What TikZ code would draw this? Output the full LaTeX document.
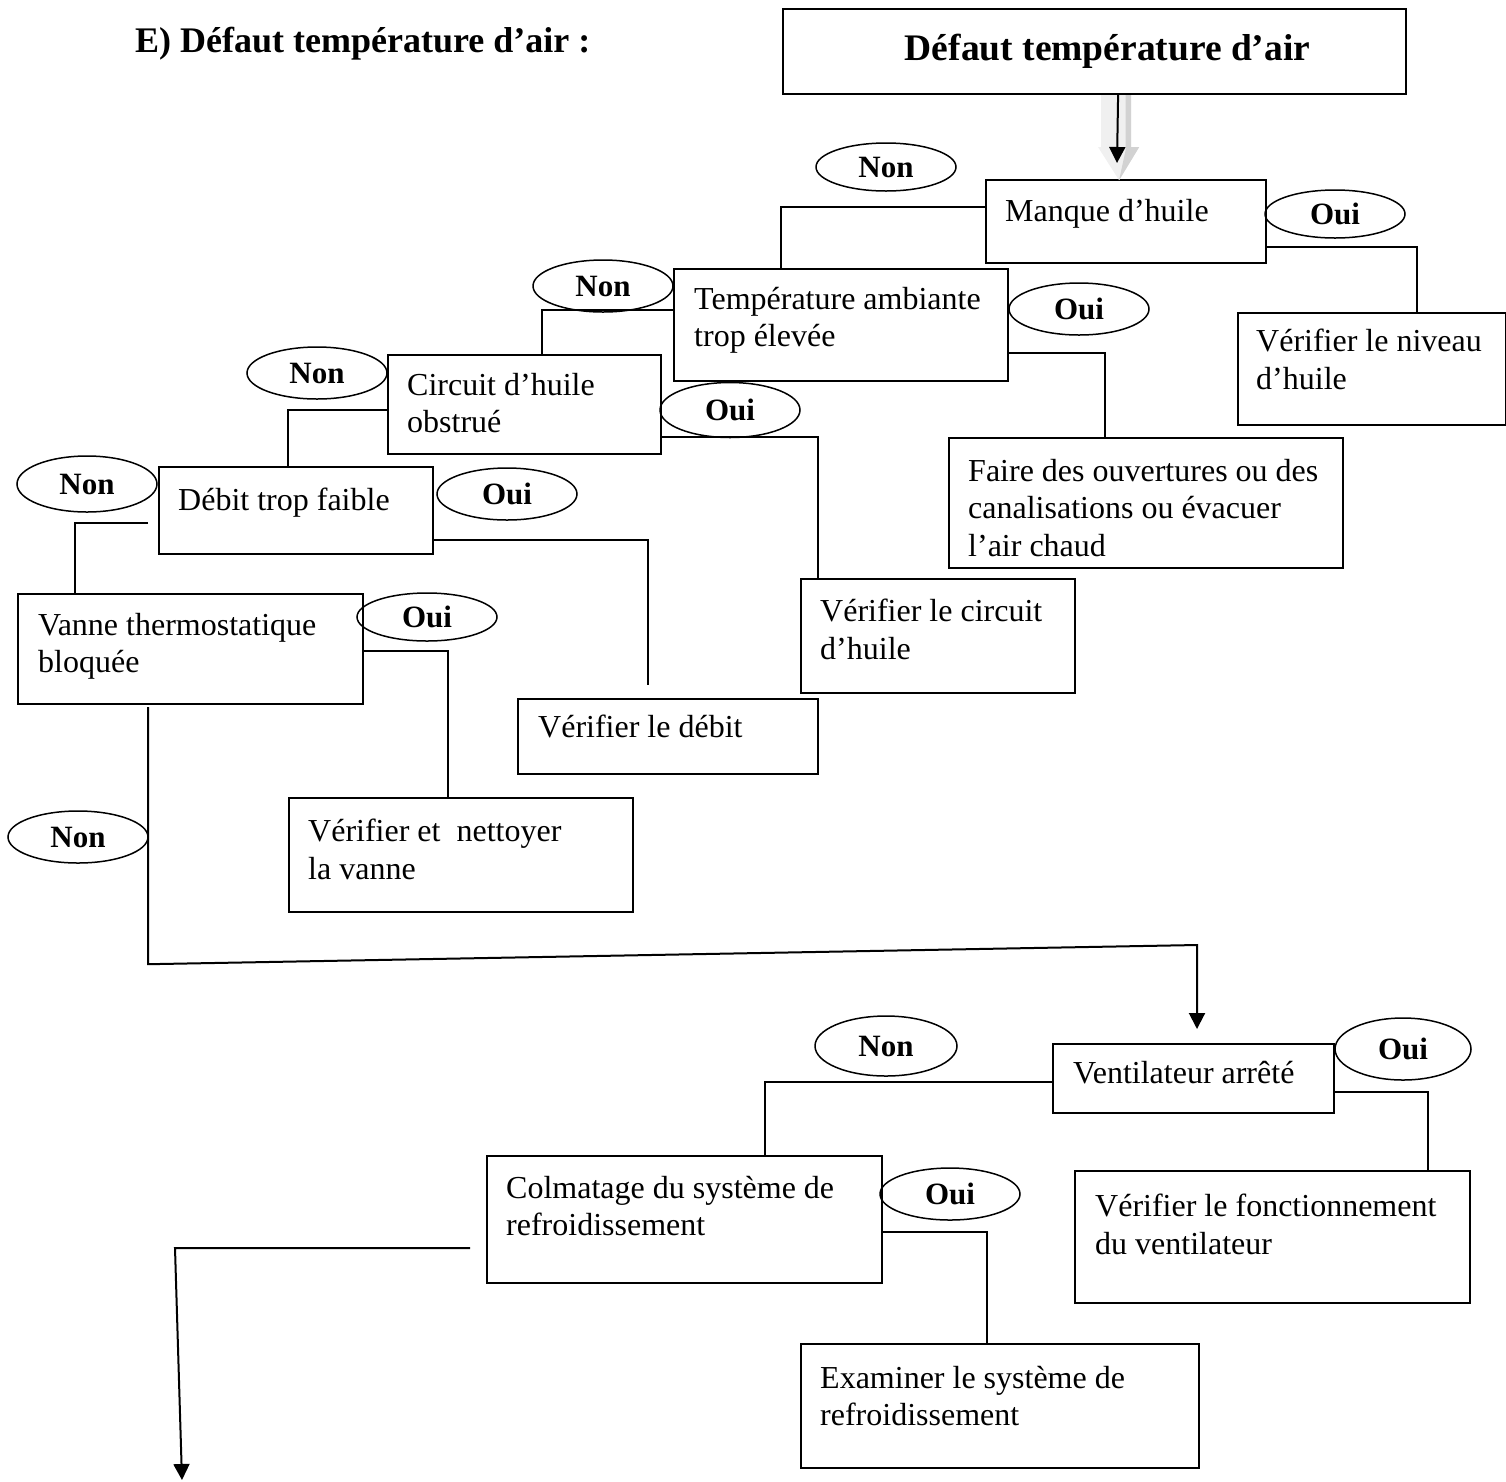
\documentclass[tikz,border=0pt]{standalone}
\usepackage{fontspec}
\setmainfont{Liberation Serif}
\usetikzlibrary{shapes.geometric,arrows.meta,calc}
\newcommand{\corps}{\fontsize{32}{37.5}\selectfont}
\newcommand{\gras}{\bfseries\fontsize{36}{40}\selectfont}

\begin{document}
\begin{tikzpicture}[x=1pt,y=-1pt,
  boite/.style={draw,line width=2.2pt,anchor=north west,inner sep=0pt},
  texte/.style={anchor=north west,align=left,inner sep=0pt,font=\corps,execute at begin node=\strut},
  ovale/.style={draw,ellipse,line width=1.5pt,minimum width=140pt,minimum height=52pt,inner sep=0pt,font=\bfseries\fontsize{31}{37}\selectfont},
  lien/.style={line width=2pt},
  fleche/.style={line width=2pt,-{Triangle[length=16pt,width=16pt]}}]
  \useasboundingbox (0,0) rectangle (1506,1481);

  %heading
  \node[anchor=base west,font=\gras,inner sep=0pt] (entete) at (135,52) {E) Défaut température d’air :};
  \node[boite,minimum width=623pt,minimum height=85pt,font=\bfseries\fontsize{37.5}{40}\selectfont] (titre) at (782,8) {\hspace*{26pt}Défaut température d’air};

  %question boxes
  \node[boite,minimum width=280pt,minimum height=83pt] (manque) at (985,179) {};
  \node[boite,minimum width=334pt,minimum height=112pt] (temp) at (673,268) {};
  \node[boite,minimum width=273pt,minimum height=99pt] (circuit) at (387,354) {};
  \node[boite,minimum width=274pt,minimum height=87pt] (debit) at (158,466) {};
  \node[boite,minimum width=345pt,minimum height=110pt] (vanne) at (17,593) {};
  \node[boite,minimum width=281pt,minimum height=69pt] (ventil) at (1052,1043) {};
  \node[boite,minimum width=395pt,minimum height=127pt] (colmat) at (486,1155) {};

  %answer boxes
  \node[boite,minimum width=268pt,minimum height=112pt] (niveau) at (1237,312) {};
  \node[boite,minimum width=394pt,minimum height=130pt] (faire) at (948,437) {};
  \node[boite,minimum width=274pt,minimum height=114pt] (vcircuit) at (800,578) {};
  \node[boite,minimum width=300pt,minimum height=75pt] (vdebit) at (517,698) {};
  \node[boite,minimum width=344pt,minimum height=114pt] (vvanne) at (288,797) {};
  \node[boite,minimum width=395pt,minimum height=132pt] (vventil) at (1074,1170) {};
  \node[boite,minimum width=398pt,minimum height=124pt] (exam) at (800,1343) {};

  %texts of the boxes
  \node[texte] (manque-t) at ($(manque.north west)+(20,16)$) {Manque d’huile};
  \node[texte] (temp-t) at ($(temp.north west)+(21,19)$) {Température ambiante\\trop élevée};
  \node[texte] (circuit-t) at ($(circuit.north west)+(20,19)$) {Circuit d’huile\\obstrué};
  \node[texte] (debit-t) at ($(debit.north west)+(20,18)$) {Débit trop faible};
  \node[texte] (vanne-t) at ($(vanne.north west)+(21,20)$) {Vanne thermostatique\\bloquée};
  \node[texte] (ventil-t) at ($(ventil.north west)+(21,14)$) {Ventilateur arrêté};
  \node[texte] (colmat-t) at ($(colmat.north west)+(20,21)$) {Colmatage du système de\\refroidissement};
  \node[texte] (niveau-t) at ($(niveau.north west)+(19,17)$) {Vérifier le niveau\\d’huile};
  \node[texte] (faire-t) at ($(faire.north west)+(20,22)$) {Faire des ouvertures ou des\\canalisations ou évacuer\\l’air chaud};
  \node[texte] (vcircuit-t) at ($(vcircuit.north west)+(20,21)$) {Vérifier le circuit\\d’huile};
  \node[texte] (vdebit-t) at ($(vdebit.north west)+(21,13)$) {Vérifier le débit};
  \node[texte] (vvanne-t) at ($(vvanne.north west)+(20,22)$) {Vérifier et~ nettoyer\\la vanne};
  \node[texte] (vventil-t) at ($(vventil.north west)+(21,24)$) {Vérifier le fonctionnement\\du ventilateur};
  \node[texte] (exam-t) at ($(exam.north west)+(20,23)$) {Examiner le système de\\refroidissement};

  %Non / Oui
  \node[ovale,minimum height=48pt] (non1) at (886,167) {Non};
  \node[ovale,minimum height=48pt] (oui1) at (1335,214) {Oui};
  \node[ovale] (non2) at (603,286) {Non};
  \node[ovale] (oui2) at (1079,309) {Oui};
  \node[ovale] (non3) at (317,373) {Non};
  \node[ovale,minimum height=55pt] (oui3) at (730,410) {Oui};
  \node[ovale,minimum height=56pt] (non4) at (87,484) {Non};
  \node[ovale] (oui4) at (507,494) {Oui};
  \node[ovale,minimum height=48pt] (oui5) at (427,617) {Oui};
  \node[ovale] (non5) at (78,837) {Non};
  \node[ovale,minimum width=142pt,minimum height=60pt] (non6) at (886,1046) {Non};
  \node[ovale,minimum width=136pt,minimum height=62pt] (oui6) at (1403,1049) {Oui};
  \node[ovale] (oui7) at (950,1194) {Oui};

  %double arrow under the title
  \begin{scope}[shift={(titre.south)}]
    \fill[gray!12] (6.5,0) -- (6.5,52) -- (3.5,52) -- (24.5,85) -- (44.5,52) -- (36.5,52) -- (36.5,0) -- cycle;
    \fill[gray!35] (31,0) -- (31,55) -- (24.5,85) -- (44.5,52) -- (36.5,52) -- (36.5,0) -- cycle;
  \end{scope}
  \draw[fleche] ($(titre.south)+(23.5,0)$) -- ($(manque.north west)+(132,-16)$);

  %links
  \draw[lien] ($(manque.north west)+(0,28)$) -| ($(temp.north west)+(108,0)$);
  \draw[lien] ($(manque.north east)+(0,68)$) -| ($(niveau.north west)+(180,0)$);
  \draw[lien] ($(temp.north west)+(0,42)$) -| ($(circuit.north west)+(155,0)$);
  \draw[lien] ($(temp.north east)+(0,85)$) -| ($(faire.north west)+(157,0)$);
  \draw[lien] ($(circuit.north west)+(0,56)$) -| ($(debit.north west)+(130,0)$);
  \draw[lien] ($(circuit.north east)+(0,83)$) -| ($(vcircuit.north west)+(18,0)$);
  \draw[lien] ($(debit.north west)+(-10,57)$) -| ($(vanne.north west)+(58,0)$);
  \draw[lien] ($(debit.north east)+(0,74)$) -| ($(vdebit.north west)+(131,-13)$);
  \draw[lien] ($(vanne.north east)+(0,58)$) -| ($(vvanne.north west)+(160,0)$);
  \draw[lien] ($(ventil.north west)+(0,39)$) -| ($(colmat.north west)+(279,0)$);
  \draw[lien] ($(ventil.north east)+(0,49)$) -| ($(vventil.north west)+(354,0)$);
  \draw[lien] ($(colmat.north east)+(0,77)$) -| ($(exam.north west)+(187,0)$);

  %long links
  \draw[fleche] ($(vanne.south west)+(131,2)$) -- ($(vanne.south west)+(131,259)$)
    -- ($(ventil.north west)+(145,-98)$) -- ($(ventil.north west)+(145,-14)$);
  \coordinate (suite) at (182,1480);
  \draw[fleche] ($(colmat.north west)+(-16,93)$) -- ($(colmat.north west)+(-311,93)$) -- (suite);
\end{tikzpicture}
\end{document}
